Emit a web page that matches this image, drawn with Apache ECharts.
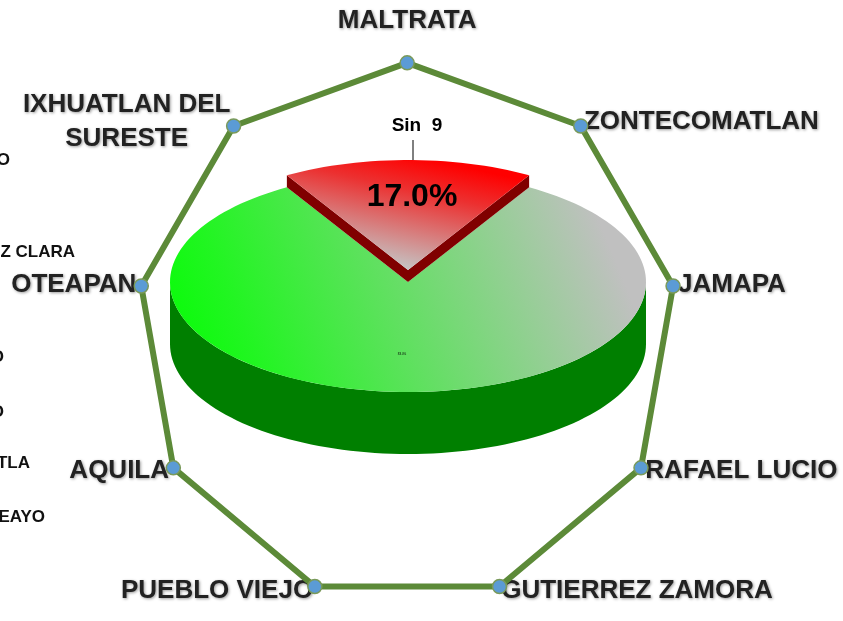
<!DOCTYPE html>
<html>
<head>
<meta charset="utf-8">
<script src="https://cdn.jsdelivr.net/npm/echarts@6/dist/echarts.min.js"></script>
<style>
  html, body { margin: 0; padding: 0; background: #fff; }
  #main { width: 843px; height: 621px; }
</style>
</head>
<body>
<div id="main"></div>
<script>
// radar indicators, counter-clockwise from the top (that is how echarts lays them out)
const municipios = ['MALTRATA', 'IXHUATLAN DEL\nSURESTE', 'OTEAPAN', 'AQUILA', 'PUEBLO VIEJO',
  'GUTIERREZ ZAMORA', 'RAFAEL LUCIO', 'JAMAPA', 'ZONTECOMATLAN'];
const radarValues = [1, 1, 1, 1, 1, 1, 1, 1, 1];

// pie slices
const sliceNames = ['', 'Sin  9'];
const sliceValues = [83.0, 17.0];

// legend entries cut off by the left border
const leftLabels = ['O', 'Z CLARA', 'O', 'O', 'TLA', 'EAYO'];

const myChart = echarts.init(document.getElementById('main'));

// 3d pie look
const pie = { cx: 408, cy: 282, rx: 238, ry: 110 };
const depth = [62, 12];
const lift = [0, -12];
const topFill = [
  { type: 'linear', x: 0, y: 1, x2: 0.9, y2: 0.15,
    colorStops: [{ offset: 0, color: '#00ff00' }, { offset: 0.2, color: '#22f522' }, { offset: 1, color: '#c0c0c0' }] },
  { type: 'linear', x: 0.6, y: 0, x2: 0.5, y2: 1,
    colorStops: [{ offset: 0, color: '#ff0000' }, { offset: 0.3, color: '#ec3030' }, { offset: 1, color: '#c4c4c4' }] }
];
const sideFill = ['#007f00', '#800000'];

// angles of each slice, the small one centred at the top
const total = sliceValues.reduce((a, b) => a + b, 0);
let acc = 90 + sliceValues[1] / total * 180;
const sliceData = sliceValues.map((v, i) => {
  const a0 = acc;
  acc += v / total * 360;
  return { name: sliceNames[i], value: [a0, acc, v] };
});

const rad = (d) => d * Math.PI / 180;
function pt(deg, dy, k) {
  k = k || 1;
  return [pie.cx + k * pie.rx * Math.cos(rad(deg)), pie.cy - k * pie.ry * Math.sin(rad(deg)) + dy];
}
function arc(a0, a1, dy) {
  const pts = [];
  const n = Math.max(2, Math.ceil(Math.abs(a1 - a0) / 2));
  for (let k = 0; k <= n; k++) pts.push(pt(a0 + (a1 - a0) * k / n, dy));
  return pts;
}

function renderSlice(params, api) {
  const i = params.dataIndex;
  const a0 = api.value(0), a1 = api.value(1), v = api.value(2);
  const d = depth[i], dy = lift[i];
  const c = [pie.cx, pie.cy + dy];
  const children = [];

  // radial walls that face the viewer
  [[a0, a0 - 90], [a1, a1 + 90]].forEach(([a, nrm]) => {
    if (Math.sin(rad(nrm)) < 0) {
      const p = pt(a, dy);
      children.push({
        type: 'polygon',
        shape: { points: [c, p, [p[0], p[1] + d], [c[0], c[1] + d]] },
        style: { fill: sideFill[i] }
      });
    }
  });
  // front part of the outer wall
  for (let k = -1; k <= 2; k++) {
    const s = Math.max(a0, 180 + 360 * k), e = Math.min(a1, 360 + 360 * k);
    if (e > s) {
      children.push({
        type: 'polygon',
        shape: { points: arc(s, e, dy).concat(arc(e, s, dy + d)) },
        style: { fill: sideFill[i] }
      });
    }
  }
  // top face
  children.push({
    type: 'polygon',
    shape: { points: [c].concat(arc(a0, a1, dy)) },
    style: { fill: topFill[i] }
  });

  // labels
  const mid = (a0 + a1) / 2;
  const lp = pt(mid, dy, 0.66);
  const pct = (v / total * 100).toFixed(1) + '%';
  if (i === 1) {
    children.push({
      type: 'text', x: lp[0] + 4, y: lp[1],
      style: { text: pct, fontSize: 32, fontWeight: 'bold', fontFamily: 'Liberation Sans',
        fill: '#000', align: 'center', verticalAlign: 'middle' }
    });
    const top = pt(mid, dy);
    children.push({
      type: 'line',
      shape: { x1: top[0] + 5, y1: top[1], x2: top[0] + 5, y2: top[1] - 20 },
      style: { stroke: '#000', lineWidth: 1 }
    });
    children.push({
      type: 'text', x: top[0] + 9, y: top[1] - 34,
      style: { text: sliceNames[i], fontSize: 19, fontWeight: 'bold', fontFamily: 'Liberation Sans',
        fill: '#000', align: 'center', verticalAlign: 'middle' }
    });
  } else {
    children.push({
      type: 'text', x: lp[0] - 6, y: lp[1],
      style: { text: pct, fontSize: 3, fontFamily: 'Liberation Sans', fill: '#000',
        align: 'center', verticalAlign: 'middle' }
    });
  }
  return { type: 'group', children };
}

const nameStyle = {
  fontSize: 26,
  fontWeight: 'bold',
  fontFamily: 'Liberation Sans',
  color: '#222',
  textShadowColor: 'rgba(0,0,0,0.4)',
  textShadowBlur: 3,
  textShadowOffsetX: 1,
  textShadowOffsetY: 1
};

const option = {
  animation: false,
  backgroundColor: '#fff',
  radar: {
    center: ['48.3%', '53.6%'],
    radius: 270,
    startAngle: 90,
    splitNumber: 1,
    shape: 'polygon',
    nameGap: 5,
    indicator: municipios.map((n) => ({ name: n, min: 0, max: 1 })),
    axisName: Object.assign({}, nameStyle, {
      formatter: (name) => name.split('\n')
        .map((l) => '{' + (name === 'MALTRATA' ? 't' : 'c') + '|' + l + '}').join('\n'),
      rich: {
        c: Object.assign({ align: 'center', lineHeight: 34 }, nameStyle),
        t: Object.assign({ align: 'center', lineHeight: 74 }, nameStyle)
      }
    }),
    axisLine: { show: false },
    splitLine: { show: false },
    splitArea: { show: false },
    axisTick: { show: false },
    axisLabel: { show: false }
  },
  graphic: leftLabels.map((t, i) => ({
    type: 'text',
    x: [10, 75, 4, 4, 30, 45][i],
    y: [160, 252, 357, 412, 463, 517][i],
    style: { text: t, fontSize: 17, fontWeight: 'bold', fontFamily: 'Liberation Sans',
      fill: '#111', align: 'right', verticalAlign: 'middle' }
  })),
  series: [
    {
      type: 'radar',
      symbol: 'circle',
      symbolSize: 14,
      data: [{ value: radarValues }],
      lineStyle: { color: '#5c8a38', width: 6 },
      itemStyle: { color: '#5b9bd5', borderColor: '#7a9a5a', borderWidth: 1.5 },
      z: 2
    },
    {
      type: 'custom',
      coordinateSystem: 'none',
      silent: true,
      renderItem: renderSlice,
      data: sliceData,
      z: 3
    }
  ]
};

myChart.setOption(option);
</script>
</body>
</html>
